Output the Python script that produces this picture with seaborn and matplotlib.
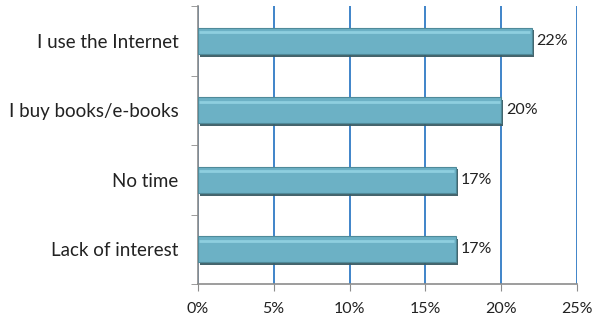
import matplotlib
matplotlib.use('Agg')
import matplotlib.pyplot as plt
import matplotlib.patheffects as pe
from matplotlib.ticker import FixedLocator, PercentFormatter
import seaborn as sns
import pandas as pd

categories = ['I use the Internet', 'I buy books/e-books', 'No time', 'Lack of interest']
shares = [22, 20, 17, 17]
x_ticks = [0, 5, 10, 15, 20, 25]

sns.set_style('white')
plt.rcParams['font.family'] = ['Lato', 'DejaVu Sans']

df = pd.DataFrame({'reason': categories, 'share': shares})

fig = plt.figure(figsize=(5.92, 3.17), dpi=100)
ax = fig.add_axes([0.334, 0.104, 0.641, 0.877])

sns.barplot(data=df, y='reason', x='share', orient='h', color='#6cb1c5',
            saturation=1, width=0.38, edgecolor='#4f8a99', linewidth=0.8, ax=ax)
for bar in ax.patches:
    bar.set_path_effects([pe.SimplePatchShadow(offset=(1.5, -2), shadow_rgbFace='#3b5c64', alpha=0.95),
                          pe.Normal()])
    bar.set_zorder(3)
    # light bevel along the top edge
    ax.plot([bar.get_x() + 0.1, bar.get_x() + bar.get_width() - 0.1],
            [bar.get_y() + bar.get_height() * 0.18] * 2,
            color='#8ecfdf', linewidth=2, zorder=4, solid_capstyle='butt')

ax.set_xlim(0, 25)
ax.set_ylim(len(categories) - 0.5, -0.5)
ax.xaxis.set_major_locator(FixedLocator(x_ticks))
ax.xaxis.set_major_formatter(PercentFormatter(decimals=0))
ax.grid(axis='x', color='#1f6fc0', linewidth=1.2, zorder=0)
ax.grid(axis='y', visible=False)
ax.set_axisbelow(True)

for v, bar in zip(shares, ax.patches):
    ax.text(bar.get_width() + 0.3, bar.get_y() + bar.get_height() / 2,
            f'{v}%', va='center', ha='left', fontsize=11.5, color='#222222')

ax.set_xlabel('')
ax.set_ylabel('')
for s in ['top', 'right']:
    ax.spines[s].set_visible(False)
for s in ['left', 'bottom']:
    ax.spines[s].set_color('#8c8c8c')
    ax.spines[s].set_linewidth(1.2)

ax.tick_params(axis='x', which='major', bottom=True, length=5, color='#8c8c8c',
               labelsize=11.5, labelcolor='#222222', pad=8)
ax.yaxis.set_minor_locator(FixedLocator([i - 0.5 for i in range(len(categories) + 1)]))
ax.tick_params(axis='y', which='minor', left=True, length=5, color='#8c8c8c')
ax.tick_params(axis='y', which='major', left=False, length=0, labelsize=13.5,
               labelcolor='#222222', pad=14)

fig.savefig('out.png', dpi=100, facecolor='white')
